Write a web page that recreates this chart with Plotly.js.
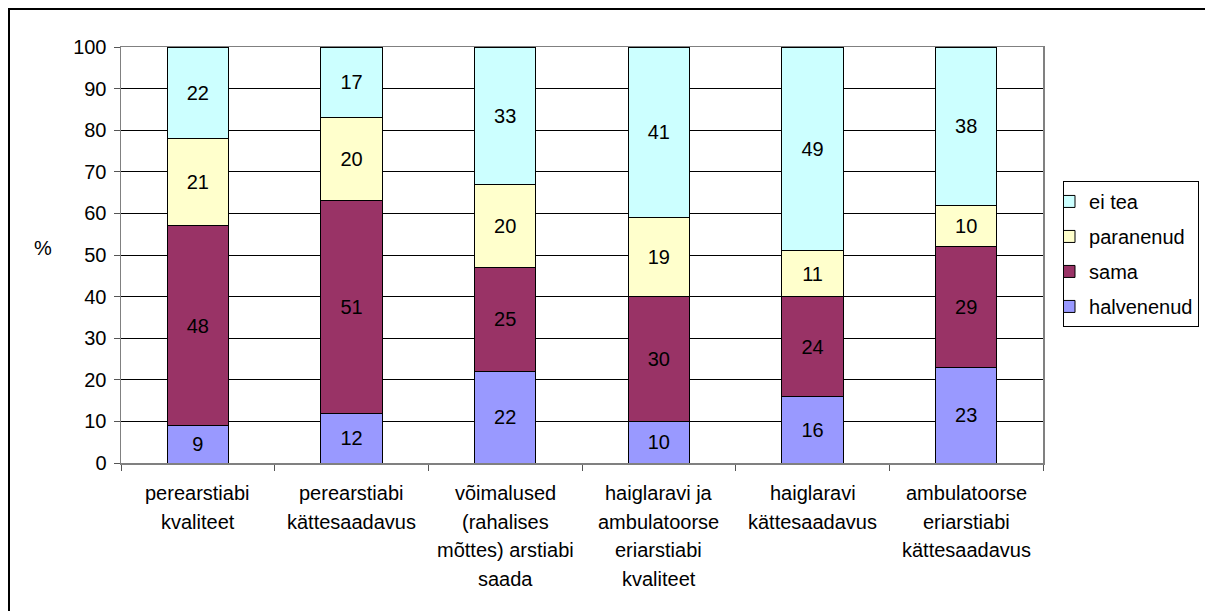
<!DOCTYPE html>
<html>
<head>
<meta charset="utf-8">
<script src="https://cdn.plot.ly/plotly-3.0.1.min.js"></script>
<style>
  html, body { margin: 0; padding: 0; background: #fff; }
  #wrap { position: relative; width: 1205px; height: 611px; overflow: hidden; }
  #chart { position: absolute; left: 0; top: 0; width: 1205px; height: 611px; }
  #frame { position: absolute; left: 8px; top: 8px; width: 1300px; height: 700px;
           border-top: 2px solid #000; border-left: 2px solid #000; pointer-events: none; }
</style>
</head>
<body>
<div id="wrap">
  <div id="chart"></div>
  <div id="frame"></div>
</div>
<script>
// Category labels, split into the lines shown under the axis
const categoryLines = [
  ["perearstiabi", "kvaliteet"],
  ["perearstiabi", "kättesaadavus"],
  ["võimalused", "(rahalises", "mõttes) arstiabi", "saada"],
  ["haiglaravi ja", "ambulatoorse", "eriarstiabi", "kvaliteet"],
  ["haiglaravi", "kättesaadavus"],
  ["ambulatoorse", "eriarstiabi", "kättesaadavus"]
];
const categories = categoryLines.map(l => l.join(" "));

// Series values (%)
const halvenenud = [9, 12, 22, 10, 16, 23];
const sama       = [48, 51, 25, 30, 24, 29];
const paranenud  = [21, 20, 20, 19, 11, 10];
const eiTea      = [22, 17, 33, 41, 49, 38];

const yTicks = [0, 10, 20, 30, 40, 50, 60, 70, 80, 90, 100];

const FONT = "Liberation Sans, Arial, sans-serif";

function barTrace(name, values, color, rank) {
  return {
    type: "bar",
    name: name,
    legendgroup: name,
    legendrank: rank,
    x: categories,
    y: values,
    text: values.map(String),
    texttemplate: "%{text}",
    textposition: "inside",
    insidetextanchor: "middle",
    constraintext: "none",
    textangle: 0,
    textfont: { family: FONT, size: 20, color: "#000" },
    marker: { color: color, line: { color: "#000", width: 1 } },
    hoverinfo: "skip"
  };
}

const data = [
  barTrace("halvenenud", halvenenud, "#9999FF", 4),
  barTrace("sama", sama, "#993366", 3),
  barTrace("paranenud", paranenud, "#FFFFCC", 2),
  barTrace("ei tea", eiTea, "#CCFFFF", 1)
];

const annotations = [];
categoryLines.forEach((lines, ci) => {
  lines.forEach((line, li) => {
    annotations.push({
      x: categories[ci], xref: "x",
      y: 0, yref: "paper",
      yanchor: "middle", xanchor: "center",
      yshift: -(30 + li * 28.5),
      text: line, showarrow: false,
      font: { family: FONT, size: 20, color: "#000" }
    });
  });
});
annotations.push({
  x: 0, xref: "paper", xanchor: "center", xshift: -78,
  y: 0.5, yref: "paper", yanchor: "middle", yshift: 7,
  text: "%", showarrow: false,
  font: { family: FONT, size: 20, color: "#000" }
});

const layout = {
  width: 1205, height: 611,
  margin: { l: 121, r: 162, t: 47, b: 148, pad: 0, autoexpand: false },
  paper_bgcolor: "#fff", plot_bgcolor: "#fff",
  barmode: "stack",
  bargap: 0.6,
  font: { family: FONT, size: 20, color: "#000" },
  showlegend: true,
  legend: {
    x: 1.0217, xanchor: "left",
    y: 0.678, yanchor: "top",
    bgcolor: "#fff", bordercolor: "#000", borderwidth: 1,
    font: { family: FONT, size: 20, color: "#000" },
    traceorder: "grouped",
    tracegroupgap: 6,
    itemwidth: 30,
    indentation: -15
  },
  xaxis: {
    type: "category",
    showticklabels: false,
    ticks: "outside", tickson: "boundaries", ticklen: 6, tickcolor: "#555", tickwidth: 1,
    showline: true, linecolor: "#808080", linewidth: 1.5, mirror: true,
    showgrid: false, zeroline: false, fixedrange: true
  },
  yaxis: {
    range: [0, 100],
    tickvals: yTicks,
    ticktext: yTicks.map(String),
    ticks: "outside", ticklen: 6, tickcolor: "#555", tickwidth: 1,
    ticklabelstandoff: 3,
    tickfont: { family: FONT, size: 20, color: "#000" },
    showline: true, linecolor: "#808080", linewidth: 1.5, mirror: true,
    showgrid: true, gridcolor: "#000", gridwidth: 1,
    zeroline: false, fixedrange: true
  },
  annotations: annotations
};

Plotly.newPlot("chart", data, layout, { staticPlot: true, displayModeBar: false });
</script>
</body>
</html>
